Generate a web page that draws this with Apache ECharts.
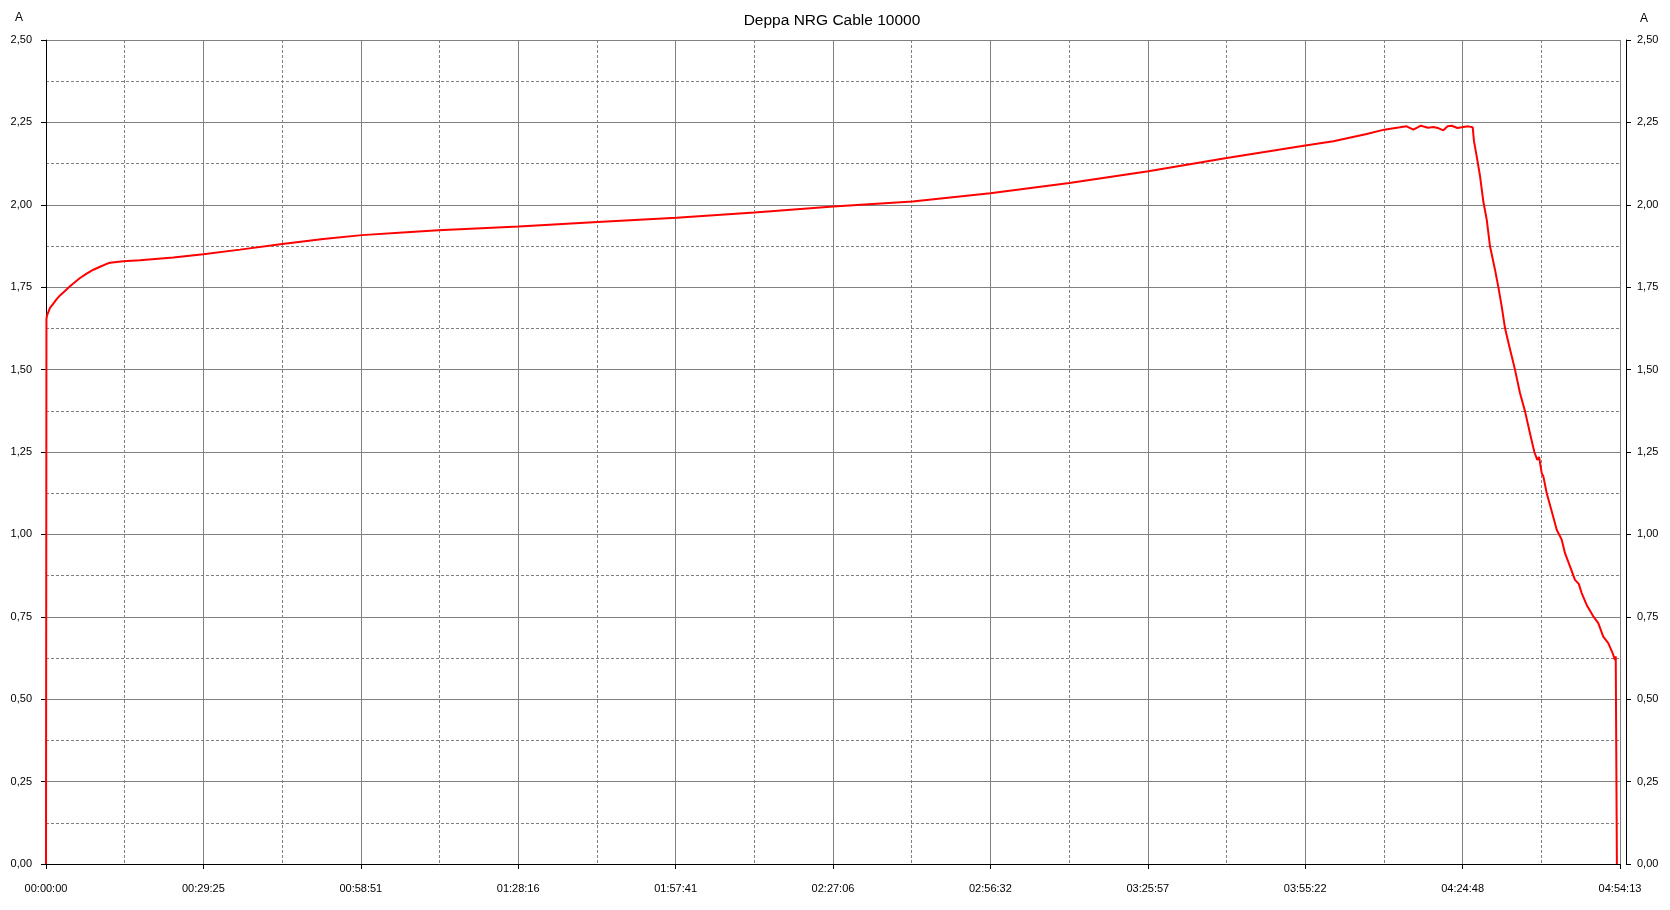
<!DOCTYPE html>
<html><head><meta charset="utf-8">
<script src="https://cdn.jsdelivr.net/npm/echarts@6/dist/echarts.min.js"></script>
<style>html,body{margin:0;padding:0;background:#fff}#c{width:1670px;height:910px}</style>
</head><body><div id="c"></div>
<script>
const chartTitle = 'Deppa NRG Cable 10000';
const unitLabel = 'A';
const xTickLabels = ['00:00:00','00:29:25','00:58:51','01:28:16','01:57:41','02:27:06','02:56:32','03:25:57','03:55:22','04:24:48','04:54:13'];
const yTickLabels = ['0,00','0,25','0,50','0,75','1,00','1,25','1,50','1,75','2,00','2,25','2,50'];
const timeSec = [0, 5, 15, 45, 82, 120, 157, 194, 269, 306, 381, 456, 531, 606, 681, 718, 867, 1054, 1428, 1764, 2176, 2650, 3110, 3541, 4045, 4400,
  5301, 6186, 7070, 7946, 8830, 9718, 10590, 11477, 12363, 13242, 14124, 14438, 14812, 15009, 15186,
  15260, 15335, 15420, 15500, 15559, 15620, 15671, 15720, 15765, 15830, 15896, 15950, 16001,
  16015, 16052, 16083, 16120, 16158, 16195, 16251, 16288, 16326, 16363, 16411, 16475, 16531, 16587, 16643,
  16692, 16725, 16745, 16775, 16793, 16831, 16887, 16943, 16999, 17036, 17092, 17148, 17190, 17223, 17279,
  17354, 17409, 17465, 17521, 17570, 17596, 17605, 17615, 17618];
const currentA = [0, 1.655, 1.667, 1.687, 1.700, 1.714, 1.725, 1.734, 1.753, 1.761, 1.778, 1.791, 1.803, 1.812, 1.821, 1.824, 1.829, 1.832, 1.840, 1.850, 1.864, 1.881, 1.896, 1.908, 1.917, 1.923,
  1.934, 1.948, 1.961, 1.977, 1.995, 2.010, 2.035, 2.066, 2.102, 2.142, 2.180, 2.193, 2.215, 2.228, 2.235,
  2.238, 2.228, 2.240, 2.234, 2.236, 2.232, 2.226, 2.238, 2.240, 2.233, 2.236, 2.238, 2.235,
  2.193, 2.137, 2.087, 2.010, 1.955, 1.874, 1.803, 1.751, 1.692, 1.626, 1.571, 1.500, 1.429, 1.374, 1.307,
  1.250, 1.226, 1.235, 1.186, 1.176, 1.125, 1.070, 1.014, 0.984, 0.943, 0.903, 0.862, 0.850, 0.822, 0.786,
  0.751, 0.731, 0.690, 0.670, 0.640, 0.619, 0.630, 0.634, 0];

const xMax = 17652.8, xInterval = 1765.28;
const FONT = 'Liberation Sans';
const chart = echarts.init(document.getElementById('c'), null, {renderer: 'canvas'});
const splitGray = '#808080';

function yAxisCfg(pos, offset, margin) {
  return {
    type: 'value', position: pos, offset: offset, min: 0, max: 2.5, interval: 0.25,
    axisLine: {show: true, lineStyle: {color: '#000', width: 1}},
    axisTick: {show: true, length: 5, lineStyle: {color: '#000'}},
    axisLabel: {margin: margin, color: '#000', fontFamily: FONT, fontSize: 11,
      formatter: v => yTickLabels[Math.round(v / 0.25)]},
    splitLine: {show: pos === 'left', lineStyle: {color: splitGray, width: 1}},
    minorTick: {show: false, splitNumber: 2},
    minorSplitLine: {show: pos === 'left', lineStyle: {color: splitGray, width: 1, type: [3, 2]}}
  };
}

chart.setOption({
  animation: false,
  backgroundColor: '#fff',
  grid: {left: 46, right: 50, top: 40, bottom: 46, containLabel: false},
  graphic: [
    {type: 'text', x: 832, y: 21, style: {text: chartTitle, align: 'center', verticalAlign: 'middle', font: '15.5px "' + FONT + '"', fill: '#000'}},
    {type: 'text', x: 19, y: 18, style: {text: unitLabel, align: 'center', verticalAlign: 'middle', font: '12px "' + FONT + '"', fill: '#000'}},
    {type: 'text', x: 1644, y: 18.5, style: {text: unitLabel, align: 'center', verticalAlign: 'middle', font: '12px "' + FONT + '"', fill: '#000'}}
  ],
  xAxis: {
    type: 'value', min: 0, max: xMax, interval: xInterval, offset: 5,
    axisLine: {show: true, lineStyle: {color: '#000', width: 1}},
    axisTick: {show: true, length: 5, lineStyle: {color: '#000'}},
    axisLabel: {margin: 14, color: '#000', fontFamily: FONT, fontSize: 11, showMinLabel: true, showMaxLabel: true,
      formatter: v => xTickLabels[Math.round(v / xInterval)]},
    splitLine: {show: true, lineStyle: {color: splitGray, width: 1}},
    minorTick: {show: false, splitNumber: 2},
    minorSplitLine: {show: true, lineStyle: {color: splitGray, width: 1, type: [3, 2]}}
  },
  yAxis: [yAxisCfg('left', 5, 9), yAxisCfg('right', 6, 11)],
  series: [{
    type: 'line', yAxisIndex: 0, showSymbol: false, symbol: 'none',
    lineStyle: {color: '#ff0000', width: 2},
    data: timeSec.map((t, i) => [t, currentA[i]])
  }]
});
</script></body></html>
